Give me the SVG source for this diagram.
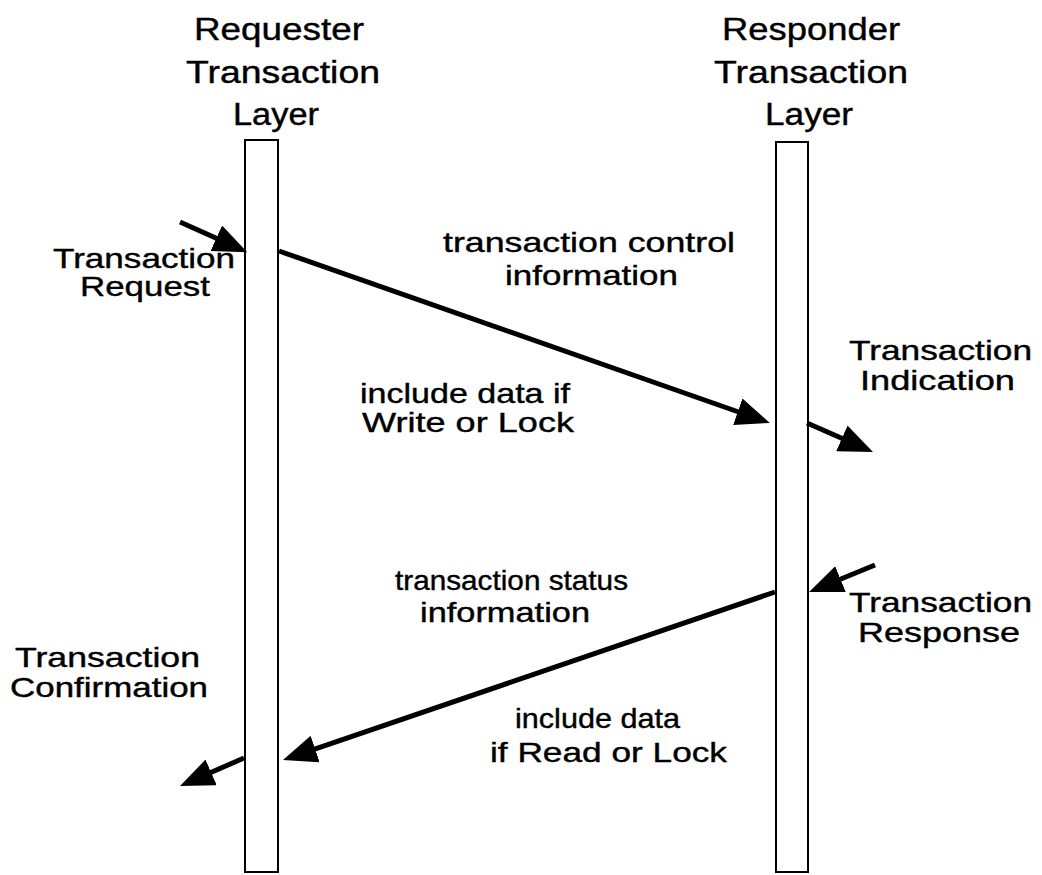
<svg xmlns="http://www.w3.org/2000/svg" width="1042" height="875" viewBox="0 0 1042 875">
<style>
  text { font-family: "Liberation Sans", Arial, sans-serif; fill: #000; stroke: #000; stroke-width: 0.4; }
  .hdr { font-size: 31px; }
  .lbl { font-size: 28px; }
  .bar { fill: #fff; stroke: #000; stroke-width: 2; }
  .msg { stroke: #000; stroke-width: 5; fill: none; marker-end: url(#ah); }
</style>
<defs>
  <marker id="ah" viewBox="0 0 34 28" refX="16" refY="14" markerWidth="34" markerHeight="28" markerUnits="userSpaceOnUse" orient="auto">
    <path d="M0,0 L34,14 L0,28 Z" fill="#000"/>
  </marker>
</defs>
<rect width="1042" height="875" fill="#fff"/>

<g id="requester">
  <rect class="bar" x="245" y="140" width="33" height="732"/>
  <text class="hdr" x="194" y="40" textLength="170" lengthAdjust="spacingAndGlyphs">Requester</text>
  <text class="hdr" x="186" y="83" textLength="194" lengthAdjust="spacingAndGlyphs">Transaction</text>
  <text class="hdr" x="233" y="125" textLength="86" lengthAdjust="spacingAndGlyphs">Layer</text>
</g>

<g id="responder">
  <rect class="bar" x="776" y="142" width="32" height="730"/>
  <text class="hdr" x="722" y="40" textLength="178" lengthAdjust="spacingAndGlyphs">Responder</text>
  <text class="hdr" x="714" y="83" textLength="194" lengthAdjust="spacingAndGlyphs">Transaction</text>
  <text class="hdr" x="765" y="125" textLength="88" lengthAdjust="spacingAndGlyphs">Layer</text>
</g>

<g id="labels">
  <text class="lbl" x="53" y="268" textLength="182" lengthAdjust="spacingAndGlyphs">Transaction</text>
  <text class="lbl" x="80" y="296" textLength="130" lengthAdjust="spacingAndGlyphs">Request</text>
  <text class="lbl" x="443" y="252" textLength="292" lengthAdjust="spacingAndGlyphs">transaction control</text>
  <text class="lbl" x="505" y="285" textLength="173" lengthAdjust="spacingAndGlyphs">information</text>
  <text class="lbl" x="849" y="360" textLength="183" lengthAdjust="spacingAndGlyphs">Transaction</text>
  <text class="lbl" x="860" y="390" textLength="155" lengthAdjust="spacingAndGlyphs">Indication</text>
  <text class="lbl" x="360" y="403" textLength="210" lengthAdjust="spacingAndGlyphs">include data if</text>
  <text class="lbl" x="362" y="432" textLength="212" lengthAdjust="spacingAndGlyphs">Write or Lock</text>
  <text class="lbl" x="395" y="590" textLength="233" lengthAdjust="spacingAndGlyphs">transaction status</text>
  <text class="lbl" x="420" y="622" textLength="170" lengthAdjust="spacingAndGlyphs">information</text>
  <text class="lbl" x="849" y="612" textLength="183" lengthAdjust="spacingAndGlyphs">Transaction</text>
  <text class="lbl" x="858" y="642" textLength="162" lengthAdjust="spacingAndGlyphs">Response</text>
  <text class="lbl" x="15" y="667" textLength="185" lengthAdjust="spacingAndGlyphs">Transaction</text>
  <text class="lbl" x="10" y="697" textLength="198" lengthAdjust="spacingAndGlyphs">Confirmation</text>
  <text class="lbl" x="515" y="728" textLength="165" lengthAdjust="spacingAndGlyphs">include data</text>
  <text class="lbl" x="490" y="762" textLength="237" lengthAdjust="spacingAndGlyphs">if Read or Lock</text>
</g>

<g id="connectors">
  <line class="msg" x1="180" y1="222" x2="230.9" y2="244.8"/>
  <line class="msg" x1="279" y1="251" x2="752.9" y2="417.0"/>
  <line class="msg" x1="807" y1="423" x2="856.5" y2="444.8"/>
  <line class="msg" x1="875" y1="565" x2="825.7" y2="585.2"/>
  <line class="msg" x1="775" y1="592" x2="300.0" y2="754.2"/>
  <line class="msg" x1="244" y1="758" x2="196.5" y2="778.8"/>
</g>
</svg>
